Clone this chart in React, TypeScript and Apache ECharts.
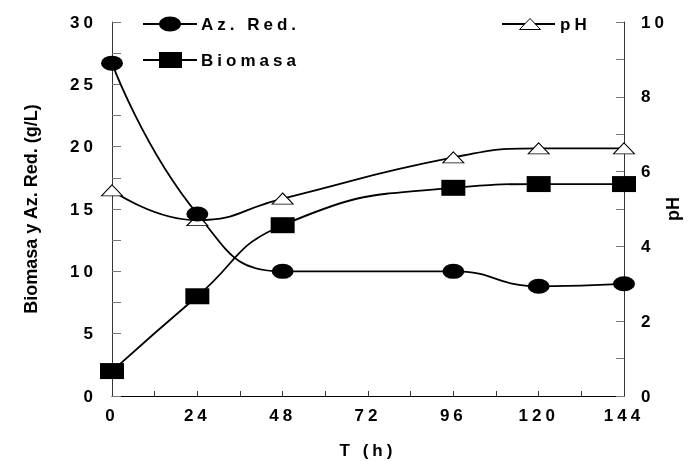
import React, { useEffect, useRef } from 'react';
import * as echarts from 'echarts';

const hours = [0, 24, 48, 96, 120, 144];
const azRed = [26.7, 14.6, 10.0, 10.0, 8.8, 9.0];
const biomasa = [2.0, 8.0, 13.7, 16.7, 17.0, 17.0];
const pH = [5.5, 4.7, 5.28, 6.38, 6.62, 6.62];

const legendNames = ['Az. Red.', 'Biomasa', 'pH'];
const xTitle = 'T (h)';
const yLeftTitle = 'Biomasa y Az. Red. (g/L)';
const yRightTitle = 'pH';

const FONT = 'Liberation Sans';
const SPACING = 4;
const ELLIPSE = 'path://M0,1 A1,1 0 1,1 2,1 A1,1 0 1,1 0,1 Z';

const labelStyle = { color: '#000', fontSize: 17, fontWeight: 'bold' as const, fontFamily: FONT };

export default function App() {
  const ref = useRef<HTMLDivElement>(null);
  useEffect(() => {
    const el = ref.current!;
    const chart = echarts.init(el, null, { renderer: 'svg' });
    const pair = (ys: number[]) => hours.map((h, i) => [h, ys[i]]);
    chart.setOption({
      animation: false,
      grid: { left: 112, right: 64, top: 22, bottom: 65, containLabel: false, outerBoundsMode: 'none' },
      xAxis: {
        type: 'value', min: 0, max: 144, interval: 24,
        name: xTitle, nameLocation: 'middle', nameGap: 46, nameMoveOverlap: false,
        nameTextStyle: { ...labelStyle },
        axisLine: { lineStyle: { color: '#000', width: 1 } },
        axisTick: { inside: true, length: 5, lineStyle: { color: '#333' } },
        minorTick: { show: true, splitNumber: 2, length: 5, lineStyle: { color: '#333' } },
        axisLabel: { ...labelStyle, margin: 11 },
        splitLine: { show: false },
      },
      yAxis: [
        {
          type: 'value', min: 0, max: 30, interval: 5, position: 'left',
          name: yLeftTitle, nameLocation: 'middle', nameRotate: 90, nameGap: 72, nameMoveOverlap: false,
          nameTextStyle: { color: '#000', fontSize: 18, fontWeight: 'bold', fontFamily: FONT },
          axisLine: { show: true, lineStyle: { color: '#333', width: 1 } },
          axisTick: { inside: true, length: 9, lineStyle: { color: '#777' } },
          minorTick: { show: true, splitNumber: 2, length: 9, lineStyle: { color: '#777' } },
          axisLabel: { ...labelStyle, margin: 15 },
          splitLine: { show: false },
        },
        {
          type: 'value', min: 0, max: 10, interval: 2, position: 'right',
          name: yRightTitle, nameLocation: 'middle', nameRotate: 90, nameGap: 40, nameMoveOverlap: false,
          nameTextStyle: { color: '#000', fontSize: 18, fontWeight: 'bold', fontFamily: FONT },
          axisLine: { show: true, lineStyle: { color: '#333', width: 1 } },
          axisTick: { inside: true, length: 8, lineStyle: { color: '#777' } },
          minorTick: { show: true, splitNumber: 2, length: 8, lineStyle: { color: '#777' } },
          axisLabel: { ...labelStyle, margin: 17 },
          splitLine: { show: false },
        },
      ],
      series: [
        {
          name: legendNames[2], type: 'line', yAxisIndex: 1, data: pair(pH), smooth: 0.5,
          symbol: 'triangle', symbolSize: [21, 11],
          lineStyle: { color: '#000', width: 1.8 },
          itemStyle: { color: '#fff', borderColor: '#000', borderWidth: 1 },
        },
        {
          name: legendNames[1], type: 'line', data: pair(biomasa), smooth: 0.5,
          symbol: 'rect', symbolSize: [24, 16],
          lineStyle: { color: '#000', width: 1.8 },
          itemStyle: { color: '#000' },
        },
        {
          name: legendNames[0], type: 'line', data: pair(azRed), smooth: 0.5,
          symbol: ELLIPSE, symbolSize: [22, 15],
          lineStyle: { color: '#000', width: 1.8 },
          itemStyle: { color: '#000' },
        },
      ],
      graphic: [
        { type: 'line', shape: { x1: 143, y1: 24, x2: 197, y2: 24 }, style: { stroke: '#000', lineWidth: 1.8 }, z: 100 },
        { type: 'ellipse', shape: { cx: 170, cy: 24, rx: 11, ry: 7.5 }, style: { fill: '#000' }, z: 101 },
        { type: 'text', x: 201, y: 24, style: { text: legendNames[0], fill: '#000', fontSize: 17, fontWeight: 'bold', fontFamily: FONT, align: 'left', verticalAlign: 'middle' }, z: 101 },
        { type: 'line', shape: { x1: 143, y1: 60, x2: 197, y2: 60 }, style: { stroke: '#000', lineWidth: 1.8 }, z: 100 },
        { type: 'rect', shape: { x: 159, y: 52, width: 23, height: 16 }, style: { fill: '#000' }, z: 101 },
        { type: 'text', x: 201, y: 60, style: { text: legendNames[1], fill: '#000', fontSize: 17, fontWeight: 'bold', fontFamily: FONT, align: 'left', verticalAlign: 'middle' }, z: 101 },
        { type: 'line', shape: { x1: 502, y1: 24, x2: 555, y2: 24 }, style: { stroke: '#000', lineWidth: 1.8 }, z: 100 },
        { type: 'polygon', shape: { points: [[530, 18.5], [519.5, 29.5], [540.5, 29.5]] }, style: { fill: '#fff', stroke: '#000', lineWidth: 1 }, z: 101 },
        { type: 'text', x: 560, y: 24, style: { text: legendNames[2], fill: '#000', fontSize: 17, fontWeight: 'bold', fontFamily: FONT, align: 'left', verticalAlign: 'middle' }, z: 101 },
      ],
    });
    const space = () => {
      el.querySelectorAll('text').forEach((t) => {
        const tr = t.getAttribute('transform') || '';
        let rotated = /rotate/.test(tr);
        const m = tr.match(/matrix\(([^)]+)\)/);
        if (m) {
          const p = m[1].split(/[\s,]+/).map(Number);
          if (Math.abs(p[1]) > 0.01) rotated = true;
        }
        (t as SVGTextElement).style.letterSpacing = rotated ? '0px' : SPACING + 'px';
      });
    };
    space();
    chart.on('finished', space);
    return () => chart.dispose();
  }, []);
  return <div ref={ref} style={{ position: 'fixed', left: 0, top: 0, width: 688, height: 461 }} />;
}
